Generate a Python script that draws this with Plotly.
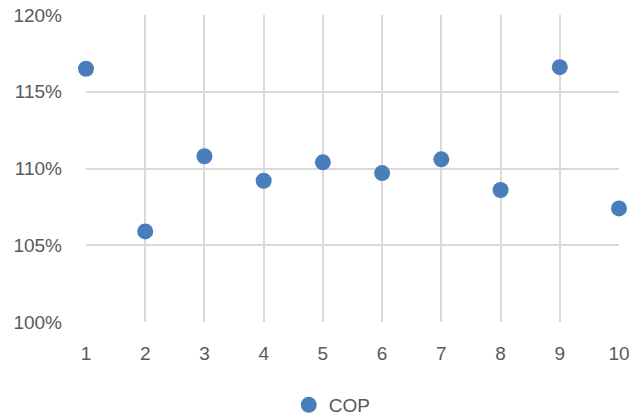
import plotly.graph_objects as go

# COP ratio per run
runs = [1, 2, 3, 4, 5, 6, 7, 8, 9, 10]
cop = [1.165, 1.059, 1.108, 1.092, 1.104, 1.097, 1.106, 1.086, 1.166, 1.074]
y_ticks = [1.00, 1.05, 1.10, 1.15, 1.20]

FONT = "Liberation Sans, Arial, sans-serif"
GRAY = "#595959"
GRID = "#d9d9d9"

fig = go.Figure()
fig.add_trace(go.Scatter(
    x=runs, y=cop, mode="markers", name="COP",
    marker=dict(size=16, color="#4A7EBB"),
    cliponaxis=False,
))

fig.update_layout(
    width=632, height=419,
    margin=dict(l=86, r=13, t=15, b=97, autoexpand=False),
    paper_bgcolor="white", plot_bgcolor="white",
    font=dict(family=FONT, size=19, color=GRAY),
    showlegend=True,
    legend=dict(orientation="h", x=0.462, xanchor="center",
                yref="container", y=14 / 419, yanchor="middle",
                font=dict(size=19, color=GRAY), itemwidth=30),
    xaxis=dict(range=[1, 10], tickvals=runs, showgrid=True, gridcolor=GRID, gridwidth=1.5,
               zeroline=False, showline=False, ticks="", ticklabelstandoff=18,
               automargin=False),
    yaxis=dict(range=[1.0, 1.2], tickvals=y_ticks, tickformat=".0%", showgrid=True,
               gridcolor=GRID, gridwidth=1.5, zeroline=False, showline=False, ticks="",
               ticklabelstandoff=23, automargin=False),
)

fig.write_html("out.html")
